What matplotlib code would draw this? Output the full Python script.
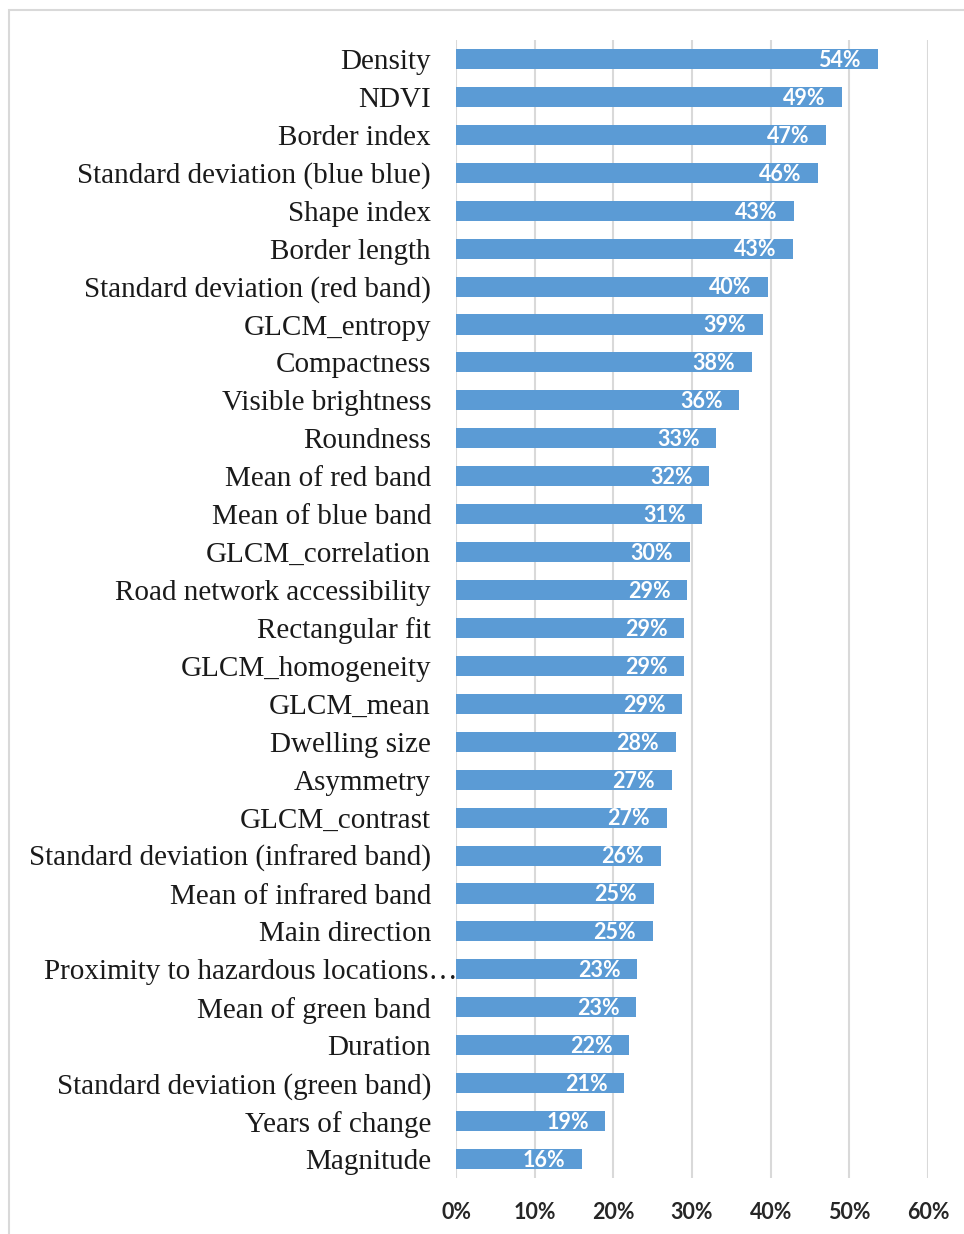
import numpy as np
import matplotlib
matplotlib.use('Agg')
import matplotlib.pyplot as plt
from matplotlib.patches import Rectangle
import matplotlib.transforms as mtransforms

features = ['Density', 'NDVI', 'Border index', 'Standard deviation (blue blue)',
            'Shape index', 'Border length', 'Standard deviation (red band)',
            'GLCM_entropy', 'Compactness', 'Visible brightness', 'Roundness',
            'Mean of red band', 'Mean of blue band', 'GLCM_correlation',
            'Road network accessibility', 'Rectangular fit', 'GLCM_homogeneity',
            'GLCM_mean', 'Dwelling size', 'Asymmetry', 'GLCM_contrast',
            'Standard deviation (infrared band)', 'Mean of infrared band',
            'Main direction', 'Proximity to hazardous locations…',
            'Mean of green band', 'Duration', 'Standard deviation (green band)',
            'Years of change', 'Magnitude']
importance = [53.6, 49.1, 47.0, 46.0, 43.0, 42.8, 39.7, 39.0, 37.6, 36.0, 33.1,
              32.2, 31.3, 29.7, 29.4, 29.0, 29.0, 28.75, 27.95, 27.4, 26.8,
              26.0, 25.15, 25.0, 23.0, 22.9, 22.0, 21.4, 19.0, 16.0]
xticks = [0, 10, 20, 30, 40, 50, 60]

fig = plt.figure(figsize=(9.64, 12.34), dpi=100, facecolor='white')
# chart area border (top and left visible)
fig.patches.append(Rectangle((9 / 964, -0.1), 1.2, 1 - 10 / 1234 + 0.1,
                             transform=fig.transFigure, fill=False,
                             edgecolor='#d9d9d9', linewidth=1.5))

ax = fig.add_axes([456 / 964, 1 - 1178 / 1234, (928 - 456) / 964, (1178 - 40) / 1234])
n = len(features)
ypos = np.arange(n)[::-1]
ax.barh(ypos, importance, height=0.53, color='#5b9bd5', zorder=3)
ax.set_ylim(-0.5, n - 0.5)
ax.set_xlim(0, 60)

for y, v in zip(ypos, importance):
    ax.annotate(f'{round(v):.0f}%', (v, y), xytext=(-12, 0.5), textcoords='offset points',
                ha='right', va='center_baseline', color='white', fontsize=15.5,
                fontweight='bold', family='Lato', zorder=4)

ax.set_xticks(xticks)
ax.set_xticklabels([f'{t}%' for t in xticks], fontsize=15.5, fontweight='bold',
                   family='Lato', color='#262626')
ax.set_yticks(ypos)
ax.set_yticklabels(features, fontsize=21, family='Liberation Serif', color='#1a1a1a')
ax.tick_params(axis='x', length=0, pad=17)
ax.tick_params(axis='y', length=0, pad=18)

# truncated label sticks out towards the axis
for lab in ax.get_yticklabels():
    if lab.get_text().startswith('Proximity'):
        lab.set_transform(lab.get_transform() +
                          mtransforms.ScaledTranslation(27 / 100, 0, fig.dpi_scale_trans))

ax.grid(axis='x', color='#d9d9d9', linewidth=1.5, zorder=0)
for s in ['top', 'right', 'bottom', 'left']:
    ax.spines[s].set_visible(False)

fig.savefig('out.png', dpi=100, facecolor='white')
